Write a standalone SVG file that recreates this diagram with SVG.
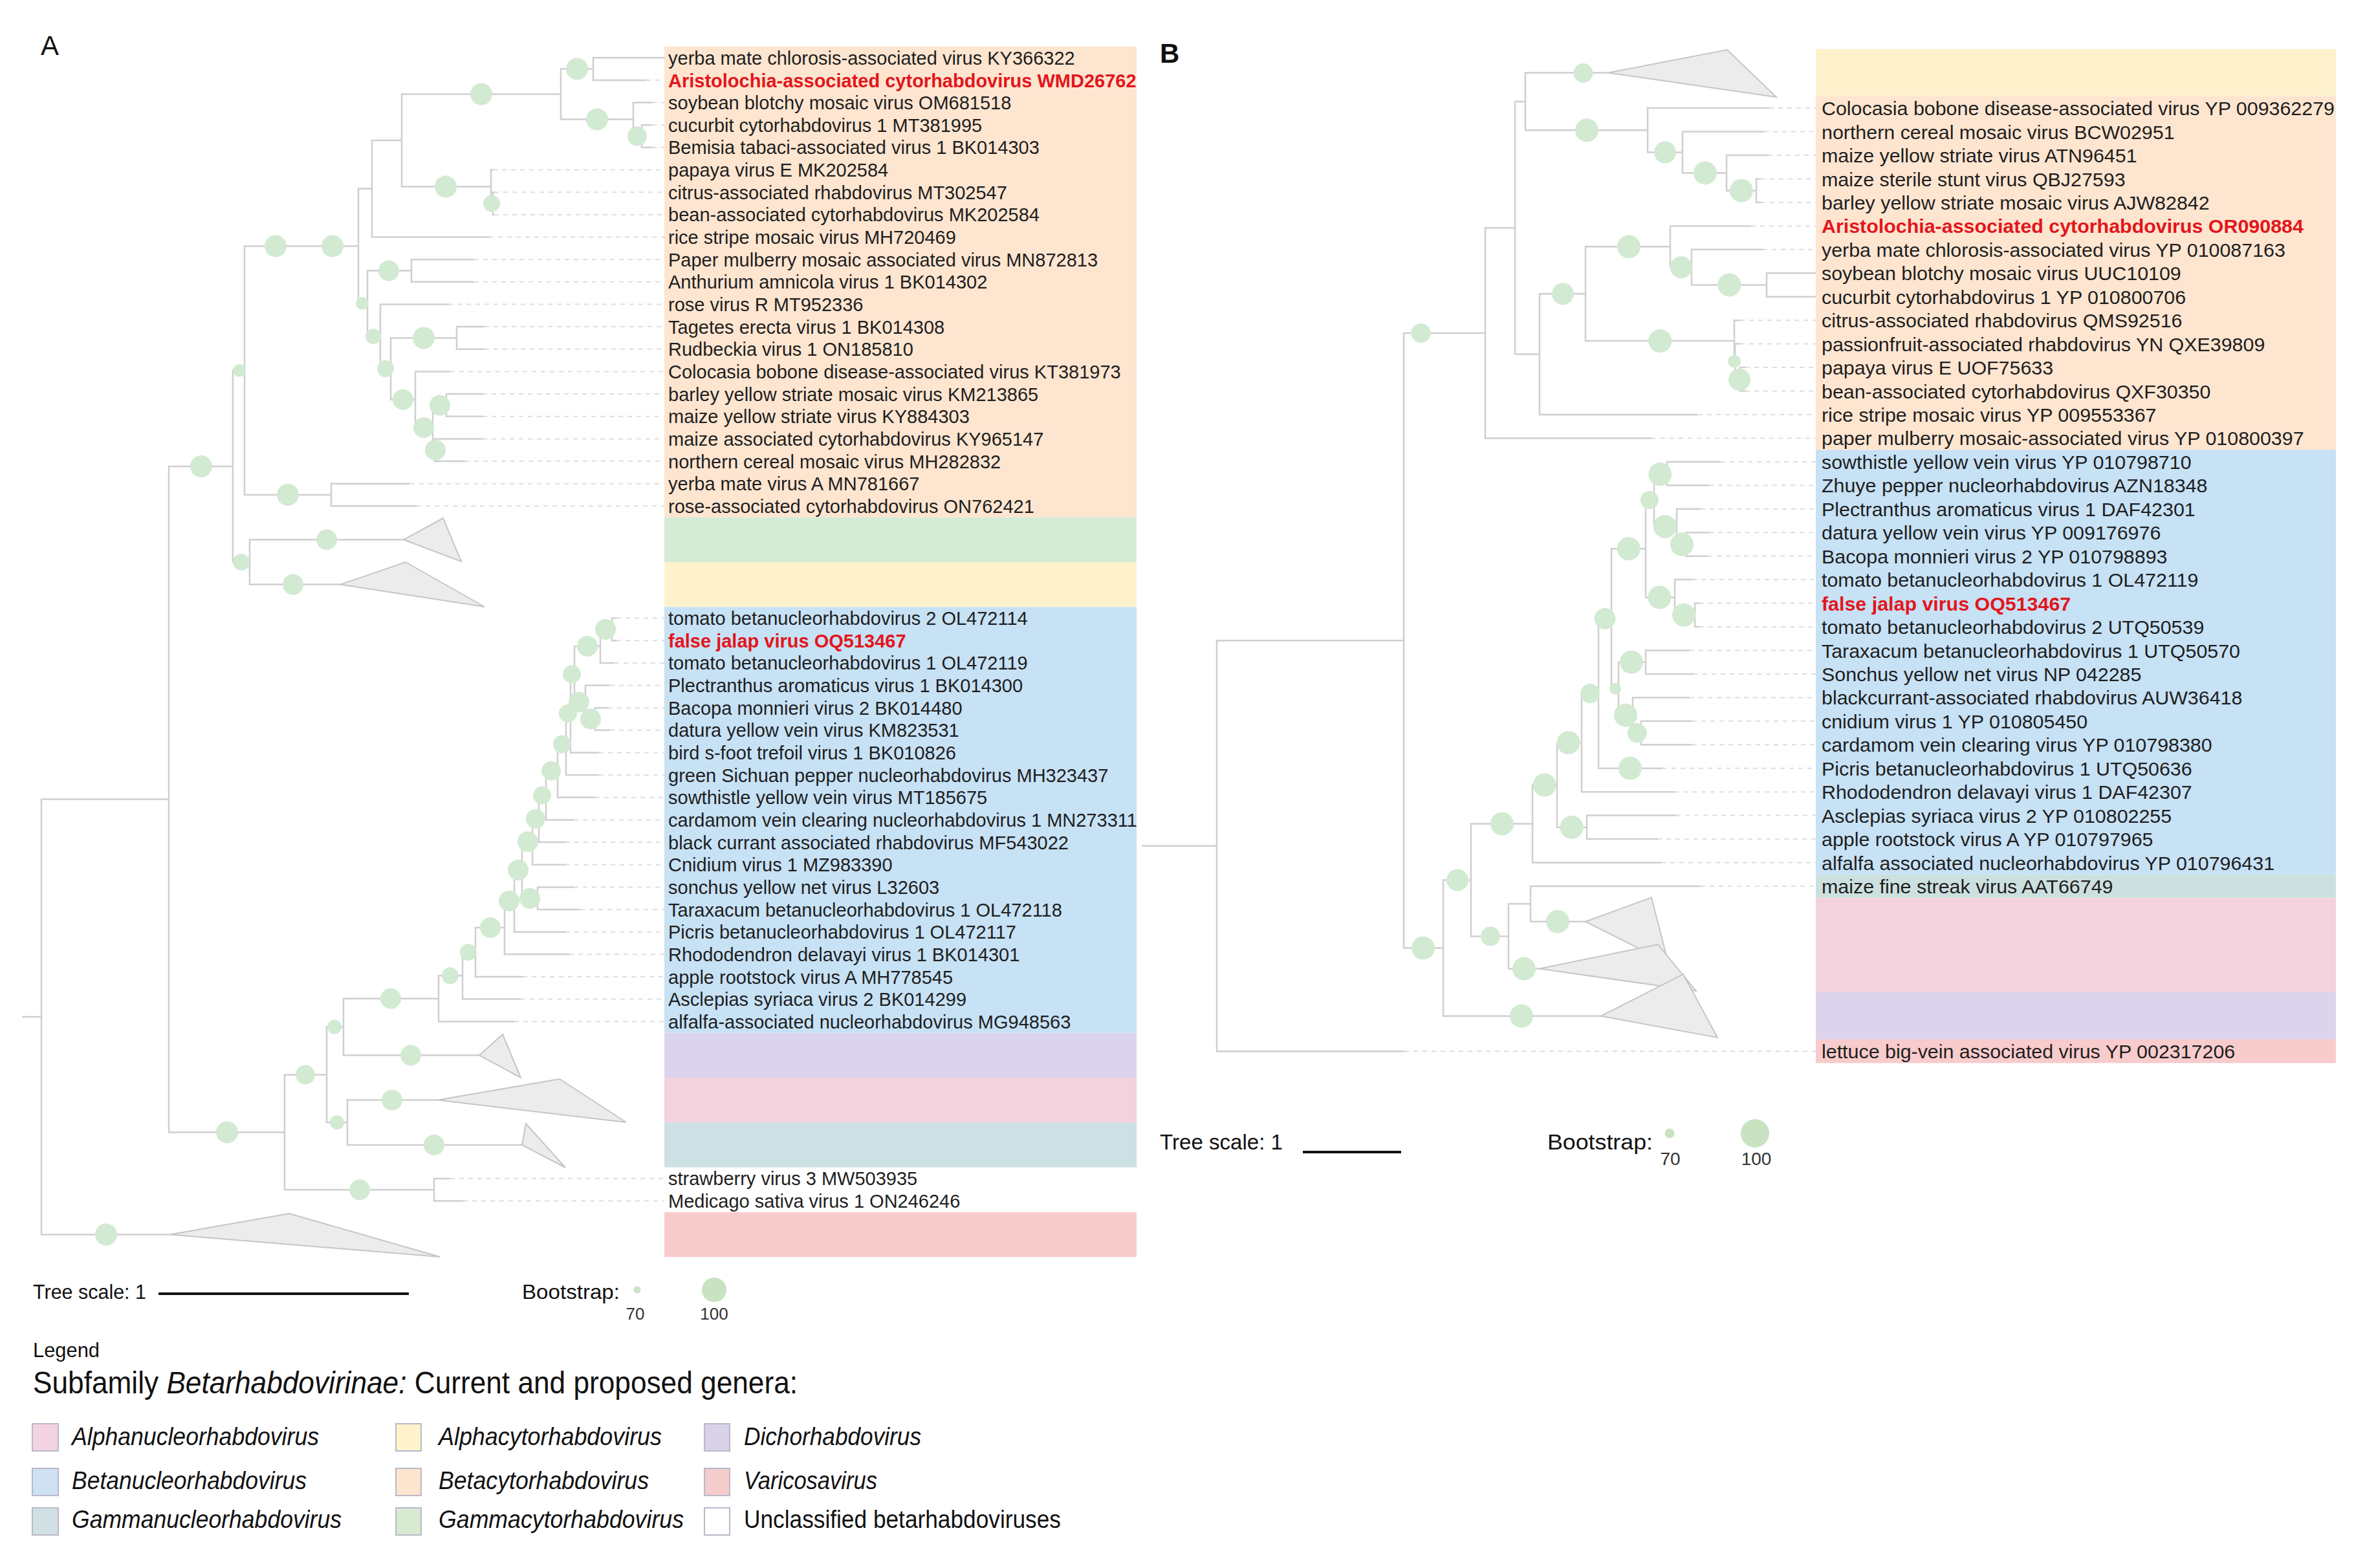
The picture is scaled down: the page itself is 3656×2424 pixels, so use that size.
<svg xmlns="http://www.w3.org/2000/svg" width="3656" height="2424" viewBox="0 0 3656 2424">
<style>
.br{stroke:#cfcfcf;stroke-width:2.5;fill:none}
.dt{stroke:#dedede;stroke-width:2;stroke-dasharray:7 7;fill:none}
.bs{fill:#d2ead2}
.tri{fill:#ececec;stroke:#c6c6c6;stroke-width:2}
.lab{font-family:"Liberation Sans",Arial,sans-serif;font-size:29px;fill:#1e1e1e}
.lb{font-size:30.4px}
.red{fill:#e3151b;font-weight:bold}
.cal{font-family:"Liberation Sans",Arial,sans-serif;fill:#111}
.it{font-style:italic}
.sw{stroke:#b9b9c9;stroke-width:2}
.bar{stroke:#111;stroke-width:4}
.lg{fill:#c9e3c2}
</style>
<rect width="3656" height="2424" fill="#fff"/>
<g id="panel-labels" class="cal">
<text x="63" y="85" font-size="42">A</text>
<text x="1793" y="97" font-size="42" font-weight="bold">B</text>
</g>
<g id="bands-A">
<rect x="1027" y="72" width="730" height="727.7" fill="#fde5d0"/>
<rect x="1027" y="799.7" width="730" height="69.3" fill="#d6ebd5"/>
<rect x="1027" y="869" width="730" height="69.3" fill="#fef2cd"/>
<rect x="1027" y="938.3" width="730" height="658.4" fill="#c7e1f5"/>
<rect x="1027" y="1596.7" width="730" height="69.3" fill="#dcd3ec"/>
<rect x="1027" y="1666" width="730" height="69.3" fill="#f3d1dd"/>
<rect x="1027" y="1735.3" width="730" height="69.3" fill="#cde0e3"/>
<rect x="1027" y="1873.9" width="730" height="69.3" fill="#f8cbcc"/>
</g>
<g id="bands-B">
<rect x="2807" y="76" width="804" height="72.9" fill="#fef2cd"/>
<rect x="2807" y="148.9" width="804" height="546.8" fill="#fde5d0"/>
<rect x="2807" y="695.7" width="804" height="656.1" fill="#c7e1f5"/>
<rect x="2807" y="1351.8" width="804" height="36.4" fill="#cde0e0"/>
<rect x="2807" y="1388.2" width="804" height="145.8" fill="#f3d1dd"/>
<rect x="2807" y="1534" width="804" height="72.9" fill="#dcd3ec"/>
<rect x="2807" y="1606.9" width="804" height="36.5" fill="#f8cbcc"/>
</g>
<g id="connectors">
<path class="dt" d="M999 124H1027M1008 158.6H1027M1008 193.3H1027M1008 227.9H1027M762 262.6H1027M764 297.2H1027M764 331.9H1027M756 366.5H1027M733 401.2H1027M733 435.8H1027M693 470.5H1027M749 505.1H1027M749 539.8H1027M696 574.4H1027M746 609.1H1027M746 643.7H1027M746 678.4H1027M719 713H1027M634 747.7H1027M644 782.3H1027M953 955.6H1027M953 990.2H1027M950 1024.9H1027M943 1059.5H1027M940 1094.2H1027M943 1128.8H1027M926 1163.5H1027M926 1198.1H1027M920 1232.8H1027M887 1267.4H1027M874 1302.1H1027M874 1336.7H1027M887 1371.4H1027M897 1406H1027M874 1440.7H1027M880 1475.3H1027M808 1510H1027M805 1544.6H1027M795 1579.3H1027M696 1821.9H1027M716 1856.5H1027"/>
<path class="dt" d="M2735 167.1H2807M2727 203.6H2807M2733 240H2807M2722 276.5H2807M2722 312.9H2807M2707 349.4H2807M2725 385.8H2807M2690 495.2H2807M2690 531.6H2807M2698 568.1H2807M2698 604.5H2807M2625 641H2807M2553 677.4H2807M2660 713.9H2807M2642 750.3H2807M2629 786.8H2807M2642 823.2H2807M2640 859.7H2807M2616 896.1H2807M2627 932.6H2807M2627 969H2807M2612 1005.5H2807M2618 1041.9H2807M2612 1078.4H2807M2616 1114.8H2807M2616 1151.3H2807M2570 1187.7H2807M2588 1224.2H2807M2591 1260.6H2807M2562 1297.1H2807M2568 1333.5H2807M2629 1370H2807M2171 1625.2H2807"/>
<path class="br" d="M34 1572H64M263 1908.5H64V1235.6H261M360 720.9H261V1750.4H440M378 572.7H360V869H386M554 380.4H378V765H512M634 747.7H512V782.3H644M624 834.3H386V903.6H526M575 291.8H554V469H568M621 217H575V366.5H756M867 145.6H621V288.6H759M917 106.6H867V184.6H979M1028 89.3H917V124H999M1008 158.6H979V210.6H992M1008 193.3H992V227.9H1008M762 262.6H759V314.5H762M764 297.2H762V331.9H764M636 418.5H568V520H588M733 401.2H636V435.8H733M693 470.5H588V570H604M706 522.5H604V617.7H642M749 505.1H706V539.8H749M696 574.4H642V661H669M690 626.4H669V695.7H672M746 609.1H690V643.7H746M746 678.4H672V713H719"/>
<path class="br" d="M505 1661.5H440V1839.2H671M696 1821.9H671V1856.5H716M531 1587.6H505V1735.3H537M678 1543.8H531V1631.3H741M677 1700.6H537V1769.9H807M715 1508.3H678V1579.3H795M735 1472H715V1544.6H805M780 1434H735V1510H808M795 1392.8H780V1475.3H880M807 1345H795V1440.7H874M823 1301.3H807V1388.7H831M887 1371.4H831V1406H897M833 1265.8H823V1336.7H874M844 1229.6H833V1302.1H874M862 1191.7H844V1267.4H887M875 1150.5H862V1232.8H920M882 1102.9H875V1198.1H926M888 1042.2H882V1163.5H926M928 998.9H888V1085.5H905M946 972.9H928V1024.9H950M953 955.6H946V990.2H953M943 1059.5H905V1111.5H920M940 1094.2H920V1128.8H943"/>
<path class="br" d="M1765 1307.8H1881M2170 990.3H1881V1625.2H2171M2296 514.9H2170V1465.6H2231M2342 352.3H2296V677.4H2553M2358 156.9H2342V547.6H2380M2486 112.5H2358V201.3H2547M2735 167.1H2547V235.5H2601M2727 203.6H2601V267.4H2669M2733 240H2669V294.7H2715M2722 276.5H2715V312.9H2722M2451 454.2H2380V641H2625M2582 381.3H2451V527.1H2681M2707 349.4H2582V413.2H2615M2725 385.8H2615V440.5H2731M2807 422.3H2731V458.7H2807M2690 495.2H2681V559H2682M2690 531.6H2682V586.3H2690M2698 568.1H2690V604.5H2698"/>
<path class="br" d="M2274 1360.5H2231V1570.7H2475M2369 1273.5H2274V1447.5H2332M2366 1397.3H2332V1497.6H2380M2629 1370H2366V1424.7H2451M2407 1213.5H2369V1333.5H2568M2445 1148.2H2407V1278.9H2453M2591 1260.6H2453V1297.1H2562M2471 1072.1H2445V1224.2H2588M2491 956.5H2471V1187.7H2570M2544 848.3H2491V1064.7H2502M2544 1023.7H2502V1105.7H2524M2612 1005.5H2544V1041.9H2618M2612 1078.4H2524V1133.1H2537M2616 1114.8H2537V1151.3H2616M2557 773.1H2544V923.5H2589M2577 732.1H2557V814.1H2592M2660 713.9H2577V750.3H2642M2629 786.8H2592V841.5H2606M2642 823.2H2606V859.7H2640M2616 896.1H2589V950.8H2620M2627 932.6H2620V969H2627"/>
</g>
<g id="collapsed-clades">
<polygon class="tri" points="624,834.3 685,801 713,868"/>
<polygon class="tri" points="526,903.6 627,869 749,938"/>
<polygon class="tri" points="741,1631.3 777,1599 805,1666"/>
<polygon class="tri" points="677,1700.6 865,1668 968,1735"/>
<polygon class="tri" points="807,1769.9 813,1737 874,1805"/>
<polygon class="tri" points="263,1908.5 447,1876 680,1943"/>
<polygon class="tri" points="2486,112.5 2670,77 2746,150"/>
<polygon class="tri" points="2451,1424.7 2553,1387.5 2579,1489"/>
<polygon class="tri" points="2380,1497.6 2563,1460 2622,1532"/>
<polygon class="tri" points="2475,1570.7 2602,1506 2655,1604"/>
</g>
<g id="bootstrap-A">
<circle class="bs" cx="892" cy="106.6" r="17"/><circle class="bs" cx="923" cy="184.6" r="17"/><circle class="bs" cx="985" cy="210.6" r="15"/><circle class="bs" cx="744" cy="145.6" r="17"/><circle class="bs" cx="760" cy="314.5" r="13"/><circle class="bs" cx="689" cy="288.6" r="17"/><circle class="bs" cx="601" cy="418.5" r="16"/><circle class="bs" cx="673" cy="695.7" r="16"/><circle class="bs" cx="680" cy="626.4" r="16"/><circle class="bs" cx="655" cy="661" r="16"/><circle class="bs" cx="623" cy="617.7" r="16"/><circle class="bs" cx="655" cy="522.5" r="17"/><circle class="bs" cx="596" cy="570" r="13"/><circle class="bs" cx="577" cy="520" r="12"/><circle class="bs" cx="560" cy="469" r="10"/><circle class="bs" cx="426" cy="380.4" r="17"/><circle class="bs" cx="514" cy="380.4" r="17"/><circle class="bs" cx="445" cy="765" r="17"/><circle class="bs" cx="370" cy="572.7" r="10"/><circle class="bs" cx="373" cy="869" r="13"/><circle class="bs" cx="505" cy="834.3" r="16"/><circle class="bs" cx="453" cy="903.6" r="16"/><circle class="bs" cx="311" cy="720.9" r="17"/>
<circle class="bs" cx="936" cy="972.9" r="16"/><circle class="bs" cx="908" cy="998.9" r="16"/><circle class="bs" cx="913" cy="1111.5" r="16"/><circle class="bs" cx="895" cy="1085.5" r="16"/><circle class="bs" cx="884" cy="1042.2" r="14"/><circle class="bs" cx="878" cy="1102.9" r="14"/><circle class="bs" cx="869" cy="1150.5" r="14"/><circle class="bs" cx="852" cy="1191.7" r="15"/><circle class="bs" cx="838" cy="1229.6" r="14"/><circle class="bs" cx="828" cy="1265.8" r="15"/><circle class="bs" cx="816" cy="1301.3" r="16"/><circle class="bs" cx="819" cy="1388.7" r="16"/><circle class="bs" cx="801" cy="1345" r="16"/><circle class="bs" cx="787" cy="1392.8" r="16"/><circle class="bs" cx="758" cy="1434" r="16"/><circle class="bs" cx="724" cy="1472" r="13"/><circle class="bs" cx="696" cy="1508.3" r="13"/><circle class="bs" cx="604" cy="1543.8" r="16"/>
<circle class="bs" cx="517" cy="1587.6" r="11"/><circle class="bs" cx="635" cy="1631.3" r="16"/><circle class="bs" cx="521" cy="1735.3" r="11"/><circle class="bs" cx="606" cy="1700.6" r="16"/><circle class="bs" cx="671" cy="1769.9" r="16"/><circle class="bs" cx="472" cy="1661.5" r="15"/><circle class="bs" cx="556" cy="1839.2" r="16"/><circle class="bs" cx="351" cy="1750.4" r="17"/><circle class="bs" cx="164" cy="1908.5" r="17"/>
</g>
<g id="bootstrap-B">
<circle class="bs" cx="2447.5" cy="112.9" r="15"/><circle class="bs" cx="2453" cy="201.3" r="18"/><circle class="bs" cx="2574" cy="235.5" r="17"/><circle class="bs" cx="2636" cy="267.4" r="18"/><circle class="bs" cx="2692" cy="294.7" r="18"/><circle class="bs" cx="2673.4" cy="440.5" r="18"/><circle class="bs" cx="2599" cy="413.2" r="17"/><circle class="bs" cx="2518" cy="381.3" r="18"/><circle class="bs" cx="2681" cy="558.7" r="10"/><circle class="bs" cx="2689" cy="587" r="17"/><circle class="bs" cx="2566.3" cy="527.1" r="18"/><circle class="bs" cx="2416" cy="454.2" r="17"/><circle class="bs" cx="2196.5" cy="514.9" r="15"/>
<circle class="bs" cx="2566.3" cy="733" r="18"/><circle class="bs" cx="2550" cy="773.1" r="14"/><circle class="bs" cx="2574" cy="814.1" r="18"/><circle class="bs" cx="2600" cy="841.5" r="18"/><circle class="bs" cx="2603" cy="950.8" r="18"/><circle class="bs" cx="2565.4" cy="923.5" r="18"/><circle class="bs" cx="2517.7" cy="848.3" r="18"/><circle class="bs" cx="2522" cy="1023.7" r="18"/><circle class="bs" cx="2513" cy="1105.7" r="18"/><circle class="bs" cx="2530.7" cy="1133.1" r="15"/><circle class="bs" cx="2497" cy="1064.7" r="9"/><circle class="bs" cx="2481" cy="956.5" r="16.5"/><circle class="bs" cx="2458" cy="1072.1" r="15"/><circle class="bs" cx="2520" cy="1187.7" r="18"/><circle class="bs" cx="2424.5" cy="1148.2" r="18"/><circle class="bs" cx="2429.7" cy="1278.9" r="18"/><circle class="bs" cx="2387.6" cy="1213.5" r="18"/><circle class="bs" cx="2322" cy="1273.5" r="18"/><circle class="bs" cx="2408" cy="1424.7" r="18"/><circle class="bs" cx="2304" cy="1447.5" r="15"/><circle class="bs" cx="2356" cy="1497.6" r="18"/><circle class="bs" cx="2253" cy="1360.5" r="17"/><circle class="bs" cx="2352" cy="1570.7" r="18"/><circle class="bs" cx="2200" cy="1465.6" r="18"/>
</g>
<g id="leaves-A" class="lab">
<text x="1033" y="99.8">yerba mate chlorosis-associated virus KY366322</text>
<text x="1033" y="134.5" class="red">Aristolochia-associated cytorhabdovirus WMD26762</text>
<text x="1033" y="169.1">soybean blotchy mosaic virus OM681518</text>
<text x="1033" y="203.8">cucurbit cytorhabdovirus 1 MT381995</text>
<text x="1033" y="238.4">Bemisia tabaci-associated virus 1 BK014303</text>
<text x="1033" y="273.1">papaya virus E MK202584</text>
<text x="1033" y="307.7">citrus-associated rhabdovirus MT302547</text>
<text x="1033" y="342.4">bean-associated cytorhabdovirus MK202584</text>
<text x="1033" y="377">rice stripe mosaic virus MH720469</text>
<text x="1033" y="411.7">Paper mulberry mosaic associated virus MN872813</text>
<text x="1033" y="446.3">Anthurium amnicola virus 1 BK014302</text>
<text x="1033" y="481">rose virus R MT952336</text>
<text x="1033" y="515.6">Tagetes erecta virus 1 BK014308</text>
<text x="1033" y="550.3">Rudbeckia virus 1 ON185810</text>
<text x="1033" y="584.9">Colocasia bobone disease-associated virus KT381973</text>
<text x="1033" y="619.6">barley yellow striate mosaic virus KM213865</text>
<text x="1033" y="654.2">maize yellow striate virus KY884303</text>
<text x="1033" y="688.9">maize associated cytorhabdovirus KY965147</text>
<text x="1033" y="723.5">northern cereal mosaic virus MH282832</text>
<text x="1033" y="758.2">yerba mate virus A MN781667</text>
<text x="1033" y="792.8">rose-associated cytorhabdovirus ON762421</text>
<text x="1033" y="966.1">tomato betanucleorhabdovirus 2 OL472114</text>
<text x="1033" y="1000.7" class="red">false jalap virus OQ513467</text>
<text x="1033" y="1035.4">tomato betanucleorhabdovirus 1 OL472119</text>
<text x="1033" y="1070">Plectranthus aromaticus virus 1 BK014300</text>
<text x="1033" y="1104.7">Bacopa monnieri virus 2 BK014480</text>
<text x="1033" y="1139.3">datura yellow vein virus KM823531</text>
<text x="1033" y="1174">bird s-foot trefoil virus 1 BK010826</text>
<text x="1033" y="1208.6">green Sichuan pepper nucleorhabdovirus MH323437</text>
<text x="1033" y="1243.3">sowthistle yellow vein virus MT185675</text>
<text x="1033" y="1277.9">cardamom vein clearing nucleorhabdovirus 1 MN273311</text>
<text x="1033" y="1312.6">black currant associated rhabdovirus MF543022</text>
<text x="1033" y="1347.2">Cnidium virus 1 MZ983390</text>
<text x="1033" y="1381.9">sonchus yellow net virus L32603</text>
<text x="1033" y="1416.5">Taraxacum betanucleorhabdovirus 1 OL472118</text>
<text x="1033" y="1451.2">Picris betanucleorhabdovirus 1 OL472117</text>
<text x="1033" y="1485.8">Rhododendron delavayi virus 1 BK014301</text>
<text x="1033" y="1520.5">apple rootstock virus A MH778545</text>
<text x="1033" y="1555.1">Asclepias syriaca virus 2 BK014299</text>
<text x="1033" y="1589.8">alfalfa-associated nucleorhabdovirus MG948563</text>
<text x="1033" y="1832.4">strawberry virus 3 MW503935</text>
<text x="1033" y="1867">Medicago sativa virus 1 ON246246</text>
</g>
<g id="leaves-B" class="lab lb">
<text x="2816" y="178.1">Colocasia bobone disease-associated virus YP 009362279</text>
<text x="2816" y="214.6">northern cereal mosaic virus BCW02951</text>
<text x="2816" y="251">maize yellow striate virus ATN96451</text>
<text x="2816" y="287.5">maize sterile stunt virus QBJ27593</text>
<text x="2816" y="323.9">barley yellow striate mosaic virus AJW82842</text>
<text x="2816" y="360.4" class="red">Aristolochia-associated cytorhabdovirus OR090884</text>
<text x="2816" y="396.8">yerba mate chlorosis-associated virus YP 010087163</text>
<text x="2816" y="433.3">soybean blotchy mosaic virus UUC10109</text>
<text x="2816" y="469.7">cucurbit cytorhabdovirus 1 YP 010800706</text>
<text x="2816" y="506.2">citrus-associated rhabdovirus QMS92516</text>
<text x="2816" y="542.6">passionfruit-associated rhabdovirus YN QXE39809</text>
<text x="2816" y="579.1">papaya virus E UOF75633</text>
<text x="2816" y="615.5">bean-associated cytorhabdovirus QXF30350</text>
<text x="2816" y="652">rice stripe mosaic virus YP 009553367</text>
<text x="2816" y="688.4">paper mulberry mosaic-associated virus YP 010800397</text>
<text x="2816" y="724.9">sowthistle yellow vein virus YP 010798710</text>
<text x="2816" y="761.3">Zhuye pepper nucleorhabdovirus AZN18348</text>
<text x="2816" y="797.8">Plectranthus aromaticus virus 1 DAF42301</text>
<text x="2816" y="834.2">datura yellow vein virus YP 009176976</text>
<text x="2816" y="870.7">Bacopa monnieri virus 2 YP 010798893</text>
<text x="2816" y="907.1">tomato betanucleorhabdovirus 1 OL472119</text>
<text x="2816" y="943.6" class="red">false jalap virus OQ513467</text>
<text x="2816" y="980">tomato betanucleorhabdovirus 2 UTQ50539</text>
<text x="2816" y="1016.5">Taraxacum betanucleorhabdovirus 1 UTQ50570</text>
<text x="2816" y="1052.9">Sonchus yellow net virus NP 042285</text>
<text x="2816" y="1089.4">blackcurrant-associated rhabdovirus AUW36418</text>
<text x="2816" y="1125.8">cnidium virus 1 YP 010805450</text>
<text x="2816" y="1162.3">cardamom vein clearing virus YP 010798380</text>
<text x="2816" y="1198.7">Picris betanucleorhabdovirus 1 UTQ50636</text>
<text x="2816" y="1235.2">Rhododendron delavayi virus 1 DAF42307</text>
<text x="2816" y="1271.6">Asclepias syriaca virus 2 YP 010802255</text>
<text x="2816" y="1308.1">apple rootstock virus A YP 010797965</text>
<text x="2816" y="1344.5">alfalfa associated nucleorhabdovirus YP 010796431</text>
<text x="2816" y="1381">maize fine streak virus AAT66749</text>
<text x="2816" y="1636.2">lettuce big-vein associated virus YP 002317206</text>
</g>
<g id="scale-A" class="cal">
<text x="51" y="2008" font-size="32" textLength="175" lengthAdjust="spacingAndGlyphs">Tree scale: 1</text>
<line class="bar" x1="245" y1="2000" x2="632" y2="2000"/>
<text x="807" y="2008" font-size="32" textLength="151" lengthAdjust="spacingAndGlyphs">Bootstrap:</text>
<circle class="lg" cx="985" cy="1994" r="5.5"/>
<circle class="lg" cx="1104" cy="1994" r="19"/>
<text x="982" y="2040" font-size="26" text-anchor="middle" fill="#333">70</text>
<text x="1104" y="2040" font-size="26" text-anchor="middle" fill="#333">100</text>
</g>
<g id="scale-B" class="cal">
<text x="1793" y="1777" font-size="34" textLength="190" lengthAdjust="spacingAndGlyphs">Tree scale: 1</text>
<line class="bar" x1="2014" y1="1781" x2="2166" y2="1781"/>
<text x="2392" y="1777" font-size="34" textLength="163" lengthAdjust="spacingAndGlyphs">Bootstrap:</text>
<circle class="lg" cx="2581" cy="1752" r="7.5"/>
<circle class="lg" cx="2713" cy="1752" r="22"/>
<text x="2582" y="1801" font-size="28" text-anchor="middle" fill="#333">70</text>
<text x="2715" y="1801" font-size="28" text-anchor="middle" fill="#333">100</text>
</g>
<g id="legend" class="cal">
<text x="51" y="2098" font-size="32" textLength="103" lengthAdjust="spacingAndGlyphs">Legend</text>
<text x="51" y="2154" font-size="48" textLength="1182" lengthAdjust="spacingAndGlyphs">Subfamily <tspan class="it">Betarhabdovirinae:</tspan> Current and proposed genera:</text>
<rect class="sw" x="50" y="2201" width="40" height="42" fill="#f2d3df"/>
<rect class="sw" x="50" y="2270" width="40" height="42" fill="#cfe2f3"/>
<rect class="sw" x="50" y="2331" width="40" height="42" fill="#d0e0e3"/>
<rect class="sw" x="612" y="2201" width="39" height="42" fill="#fff2cc"/>
<rect class="sw" x="612" y="2270" width="39" height="42" fill="#fce5cd"/>
<rect class="sw" x="612" y="2331" width="39" height="42" fill="#d9ead3"/>
<rect class="sw" x="1089" y="2201" width="39" height="42" fill="#d9d2e9"/>
<rect class="sw" x="1089" y="2270" width="39" height="42" fill="#f4cccc"/>
<rect class="sw" x="1089" y="2331" width="39" height="42" fill="#ffffff"/>
<text x="111" y="2234" font-size="38" class="it" textLength="382" lengthAdjust="spacingAndGlyphs">Alphanucleorhabdovirus</text>
<text x="111" y="2302" font-size="38" class="it" textLength="363" lengthAdjust="spacingAndGlyphs">Betanucleorhabdovirus</text>
<text x="111" y="2362" font-size="38" class="it" textLength="417" lengthAdjust="spacingAndGlyphs">Gammanucleorhabdovirus</text>
<text x="678" y="2234" font-size="38" class="it" textLength="345" lengthAdjust="spacingAndGlyphs">Alphacytorhabdovirus</text>
<text x="678" y="2302" font-size="38" class="it" textLength="325" lengthAdjust="spacingAndGlyphs">Betacytorhabdovirus</text>
<text x="678" y="2362" font-size="38" class="it" textLength="379" lengthAdjust="spacingAndGlyphs">Gammacytorhabdovirus</text>
<text x="1150" y="2234" font-size="38" class="it" textLength="274" lengthAdjust="spacingAndGlyphs">Dichorhabdovirus</text>
<text x="1150" y="2302" font-size="38" class="it" textLength="206" lengthAdjust="spacingAndGlyphs">Varicosavirus</text>
<text x="1150" y="2362" font-size="38" textLength="490" lengthAdjust="spacingAndGlyphs">Unclassified betarhabdoviruses</text>
</g>
</svg>
